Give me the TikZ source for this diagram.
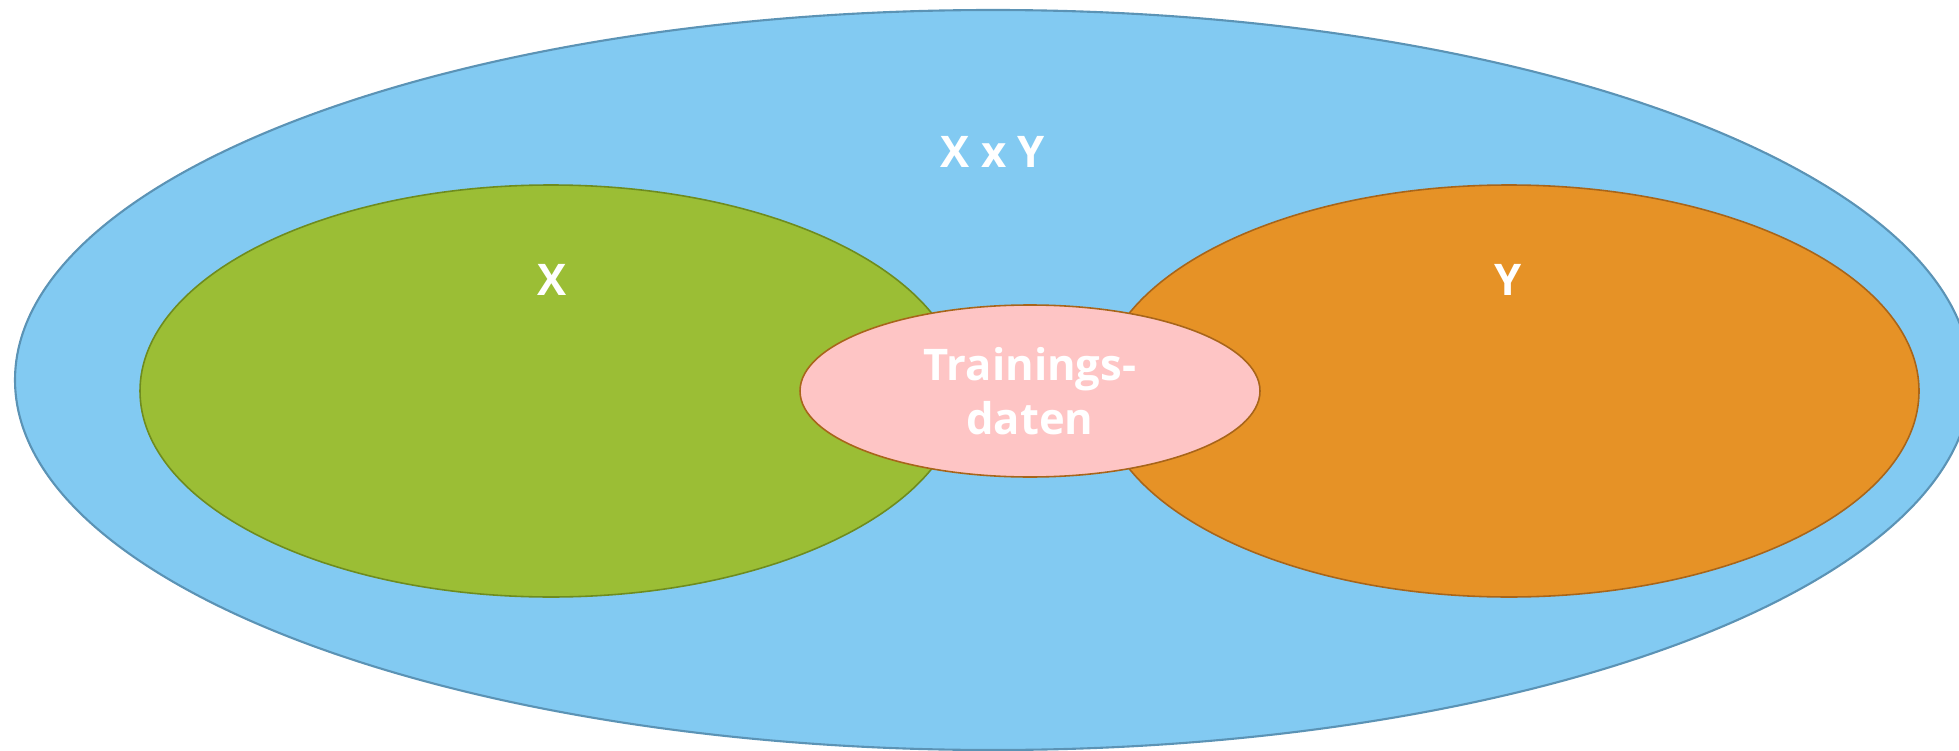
\documentclass[tikz,border=0pt]{standalone}
\usepackage{fontspec}
\setmainfont{Open Sans}
\usepackage{tikz}
\usetikzlibrary{shapes.geometric}

\definecolor{skyfill}{HTML}{82CAF2}
\definecolor{skyline}{HTML}{5B93B5}
\definecolor{greenfill}{HTML}{9BBE35}
\definecolor{greenline}{HTML}{6E8C1F}
\definecolor{orangefill}{HTML}{E69226}
\definecolor{orangeline}{HTML}{A8651A}
\definecolor{pinkfill}{HTML}{FEC5C5}
\definecolor{pinkline}{HTML}{A8651A}

\begin{document}
\begin{tikzpicture}[x=0.1mm, y=-0.1mm, line width=0.45pt,
	set/.style = {draw, ellipse, inner sep=0pt},
	txt/.style = {text=white, font=\fontsize{12.4}{15.2}\selectfont\bfseries, align=center}]
	\useasboundingbox (0,0) rectangle (1959,750);

	% the product space and the two sets
	\node[set, fill=skyfill, draw=skyline, line width=0.6pt, minimum width=195.6mm, minimum height=74mm] (xy) at (993,380) {};
	\node[set, fill=greenfill, draw=greenline, minimum width=82.2mm, minimum height=41.2mm] (x) at (551,391) {};
	\node[set, fill=orangefill, draw=orangeline, minimum width=82mm, minimum height=41.2mm] (y) at (1509,391) {};
	\node[set, fill=pinkfill, draw=pinkline, minimum width=46mm, minimum height=17.2mm, txt] (train) at (1030,391) {Trainings-\\daten};

	% labels
	\node[txt] (xylabel) at (993,152) {X x Y};
	\node[txt] (xlabel) at (552,280) {X};
	\node[txt] (ylabel) at (1508,280) {Y};
\end{tikzpicture}
\end{document}
